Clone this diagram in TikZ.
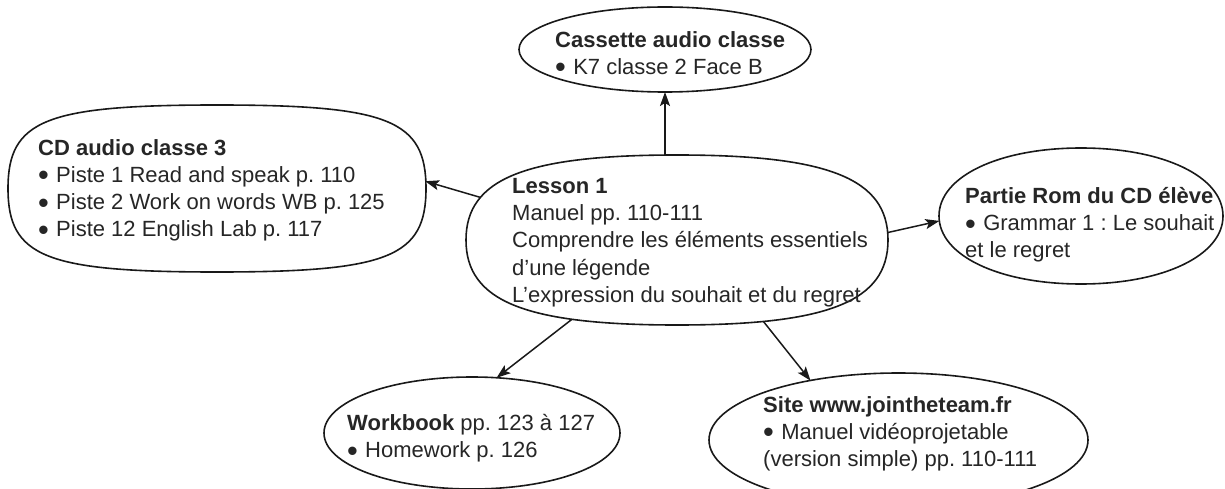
\documentclass[tikz,border=0pt]{standalone}
\usepackage{fontspec}
\usepackage{graphicx}
\setmainfont{Liberation Sans}
\usetikzlibrary{calc,arrows.meta,shapes.geometric}
\frenchspacing

% outline round a frame node: #1 = node, #2 = how far the curve pulls to the corners
\newcommand{\bubble}[2]{%
  \coordinate (#1 ne) at (#1.north -| #1.east);
  \coordinate (#1 nw) at (#1.north -| #1.west);
  \coordinate (#1 sw) at (#1.south -| #1.west);
  \coordinate (#1 se) at (#1.south -| #1.east);
  \draw[outline] (#1.east)
    .. controls ($(#1.east)!#2!(#1 ne)$) and ($(#1.north)!#2!(#1 ne)$) .. (#1.north)
    .. controls ($(#1.north)!#2!(#1 nw)$) and ($(#1.west)!#2!(#1 nw)$) .. (#1.west)
    .. controls ($(#1.west)!#2!(#1 sw)$) and ($(#1.south)!#2!(#1 sw)$) .. (#1.south)
    .. controls ($(#1.south)!#2!(#1 se)$) and ($(#1.east)!#2!(#1 se)$) .. (#1.east) -- cycle;}
% list dot
\newcommand{\dotitem}{\raisebox{-0.16em}{\scalebox{1.4}{•}}\hspace{0.33em}}

\begin{document}
\begin{tikzpicture}[x=1pt, y=-1pt,
    frame/.style 2 args={ellipse, inner sep=0pt, outer sep=0pt, minimum width=#1, minimum height=#2},
    outline/.style={draw=black!90, line width=1.6pt, line join=round, fill=white},
    txt/.style={anchor=north west, inner sep=0pt, align=left, text=black!85, font=\fontsize{22}{27.3}\selectfont},
    link/.style={-{Stealth[length=14pt, width=10pt, inset=3pt]}, draw=black!90, line width=1.5pt}]
    \useasboundingbox (0,0) rectangle (1225,489);

    \node[frame={292pt}{85pt}] (cassette) at (665,49.5) {};
    \node[frame={418pt}{167pt}] (cd) at (217,188.5) {};
    \node[frame={422pt}{170pt}] (lesson) at (677,240) {};
    \node[frame={284pt}{136pt}] (partie) at (1081,216) {};
    \node[frame={296pt}{112pt}] (workbook) at (472,433) {};
    \node[frame={379pt}{134pt}] (site) at (898.5,440) {};

    \draw[link] (cassette.south |- lesson.north) -- (cassette.south);
    \draw[link] (lesson.168) -- (cd.2);
    \draw[link] (lesson.2) -- (partie.182);
    \draw[link] (lesson.217) -- (workbook.66);
    \draw[link] (lesson.317) -- (site.146);

    \bubble{cassette}{0.56}
    \bubble{cd}{0.82}
    \bubble{lesson}{0.72}
    \bubble{partie}{0.58}
    \bubble{workbook}{0.56}
    \bubble{site}{0.56}

    \node[txt] (cassette text) at (555,30.9) {\textbf{Cassette audio classe}\\\dotitem K7 classe 2 Face B};
    \node[txt] (cd text) at (38,138.9) {\textbf{CD audio classe 3}\\\dotitem Piste 1 Read and speak p. 110\\\dotitem Piste 2 Work on words WB p. 125\\\dotitem Piste 12 English Lab p. 117};
    \node[txt] (lesson text) at (512,177.9) {\textbf{Lesson 1}\\Manuel pp. 110-111\\Comprendre les éléments essentiels\\d’une légende\\L’expression du souhait et du regret};
    \node[txt] (partie text) at (965,186.9) {\textbf{Partie Rom du CD élève}\\\dotitem Grammar 1 : Le souhait\\et le regret};
    \node[txt] (workbook text) at (347,413.9) {\textbf{Workbook} pp. 123 à 127\\\dotitem Homework p. 126};
    \node[txt] (site text) at (763,395.9) {\textbf{Site www.jointheteam.fr}\\\dotitem Manuel vidéoprojetable\\(version simple) pp. 110-111};
\end{tikzpicture}
\end{document}
